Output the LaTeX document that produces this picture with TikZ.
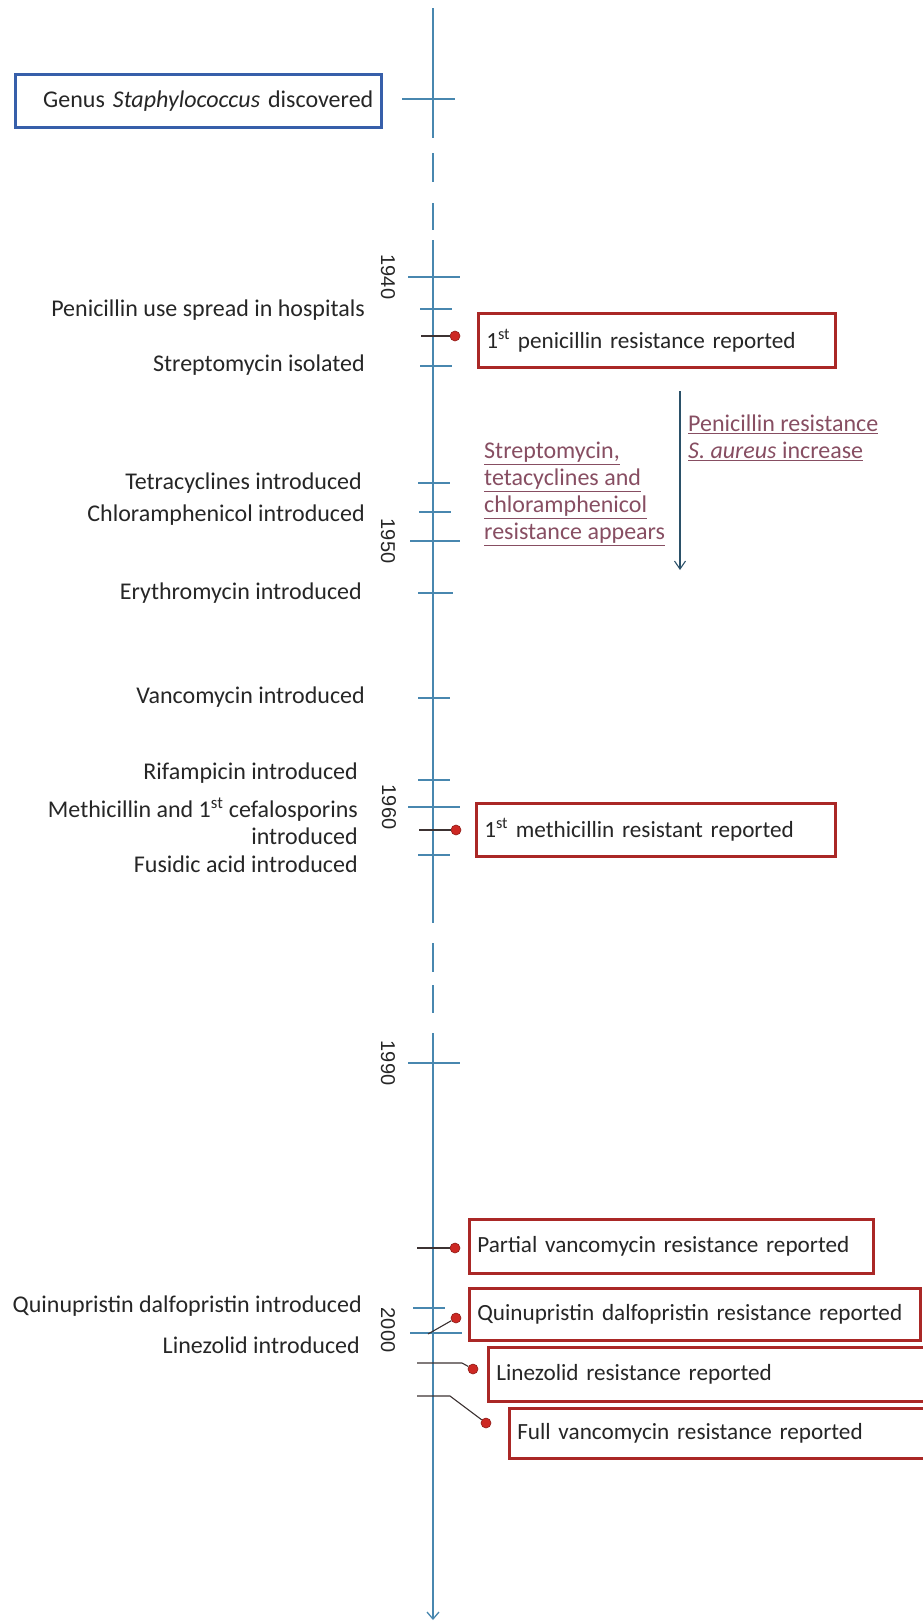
\documentclass[tikz,border=0pt]{standalone}
\usepackage{fontspec}
\setmainfont{Carlito}
\newfontfamily\yearfont{Liberation Sans}
\usetikzlibrary{arrows.meta,shadows}
\definecolor{axisblue}{RGB}{72,135,175}
\definecolor{boxred}{RGB}{170,40,38}
\definecolor{dotred}{RGB}{205,40,35}
\definecolor{genusblue}{RGB}{55,95,170}
\definecolor{annotc}{RGB}{135,78,98}
\definecolor{darkconn}{RGB}{60,50,50}
\begin{document}
\begin{tikzpicture}[x=1pt,y=-1pt,
  lbl/.style={anchor=east, inner sep=0pt, font=\fontsize{24}{27}\selectfont, text=black!85},
  yr/.style={rotate=-90, inner sep=0pt, font=\yearfont\fontsize{20}{22}\selectfont, text=black!85},
  tick/.style={draw=axisblue, line width=1.1pt},
  axisline/.style={draw=axisblue, line width=1.3pt},
  rbox/.style={draw=boxred, line width=2.6pt, fill=white, anchor=north west, inner xsep=8pt, inner ysep=0pt,
     align=left, font=\fontsize{23.2}{26}\selectfont, text=black!85,
     drop shadow={shadow xshift=2pt, shadow yshift=-2pt, opacity=0.25, fill=red!40!black}},
  gbox/.style={draw=genusblue, line width=2.6pt, fill=white, anchor=north west, inner xsep=8pt, inner ysep=0pt,
     align=right, font=\fontsize{24}{27}\selectfont, text=black!85,
     drop shadow={shadow xshift=2pt, shadow yshift=-2pt, opacity=0.25, fill=blue!30!black}},
  rdot/.style={circle, fill=dotred, draw=dotred!70!black, line width=0.6pt, minimum size=10pt, inner sep=0pt},
  conn/.style={draw=darkconn, line width=1.1pt},
  annot/.style={text=annotc, align=left, inner sep=0pt, anchor=north west, font=\fontsize{24}{27}\selectfont}
]
\useasboundingbox (0,0) rectangle (922,1622);

% ---- axis ----
\draw[axisline] (433,8) -- (433,138);
\draw[axisline] (433,153) -- (433,182);
\draw[axisline] (433,203) -- (433,230);
\draw[axisline] (433,240) -- (433,923);
\draw[axisline] (433,943) -- (433,972);
\draw[axisline] (433,985) -- (433,1013);
\draw[axisline,-{Straight Barb[length=7pt,width=12pt]}] (433,1033) -- (433,1620);

% ---- ticks ----
\draw[tick] (402,99) -- (455,99);
\draw[tick] (408,277) -- (460,277);
\draw[tick] (420,309) -- (452,309);
\draw[tick] (420,366) -- (452,366);
\draw[tick] (418,483) -- (450,483);
\draw[tick] (419,512) -- (451,512);
\draw[tick] (410,541) -- (460,541);
\draw[tick] (418,593) -- (453,593);
\draw[tick] (418,698) -- (450,698);
\draw[tick] (418,780) -- (450,780);
\draw[tick] (408,807) -- (460,807);
\draw[tick] (418,855) -- (450,855);
\draw[tick] (408,1063) -- (460,1063);
\draw[tick] (413,1308) -- (445,1308);
\draw[tick] (410,1333) -- (462,1333);

% ---- year labels ----
\node[yr] (y1940) at (388,277) {1940};
\node[yr] (y1950) at (388,541) {1950};
\node[yr] (y1960) at (389,807) {1960};
\node[yr] (y1990) at (388,1063) {1990};
\node[yr] (y2000) at (388,1330) {2000};

% ---- genus box ----
\node[gbox, minimum height=53pt, text width=350pt] (genus) at (14,73) {Genus \textit{Staphylococcus} discovered};

% ---- left labels ----
\node[lbl] (l1) at (365,310) {Penicillin use spread in hospitals};
\node[lbl] (l2) at (365,365) {Streptomycin isolated};
\node[lbl] (l3) at (362,483) {Tetracyclines introduced};
\node[lbl] (l4) at (365,515) {Chloramphenicol introduced};
\node[lbl] (l5) at (362,593) {Erythromycin introduced};
\node[lbl] (l6) at (365,697) {Vancomycin introduced};
\node[lbl] (l7) at (358,773) {Rifampicin introduced};
\node[lbl, align=right] (l8) at (358,821) {Methicillin and 1\textsuperscript{st} cefalosporins\\introduced};
\node[lbl] (l9) at (358,864) {Fusidic acid introduced};
\node[lbl] (l10) at (362,1306) {Quinupristin dalfopristin introduced};
\node[lbl] (l11) at (360,1345) {Linezolid introduced};

% ---- resistance boxes ----
\node[rbox, minimum height=54pt, text width=341pt] (b1) at (477,312) {\mbox{1\textsuperscript{st} penicillin resistance reported}};
\node[rbox, minimum height=53pt, text width=343pt] (b2) at (475,802) {\mbox{1\textsuperscript{st} methicillin resistant reported}};
\node[rbox, minimum height=54pt, text width=388pt] (b3) at (468,1218) {\mbox{Partial vancomycin resistance reported}};
\node[rbox, minimum height=52pt, text width=435pt] (b4) at (468,1287) {\mbox{Quinupristin dalfopristin resistance reported}};
\node[rbox, minimum height=54pt, text width=450pt] (b5) at (487,1346) {\mbox{Linezolid resistance reported}};
\node[rbox, minimum height=50pt, text width=430pt] (b6) at (508,1407) {\mbox{Full vancomycin resistance reported}};

% ---- dots and connectors ----
\node[rdot] (d1) at (455,336) {};
\node[rdot] (d2) at (456,830) {};
\node[rdot] (d3) at (455,1248) {};
\node[rdot] (d4) at (456,1318) {};
\node[rdot] (d5) at (473,1369) {};
\node[rdot] (d6) at (486,1423) {};
\coordinate (c1) at (421,336);
\coordinate (c2) at (419,830);
\coordinate (c3) at (417,1248);
\coordinate (c4) at (428,1334);
\coordinate (c5) at (417,1363);
\coordinate (c5b) at (462,1363);
\coordinate (c6) at (417,1396);
\coordinate (c6b) at (450,1396);
\draw[conn] (c1) -- (d1);
\draw[conn] (c2) -- (d2);
\draw[conn] (c3) -- (d3);
\draw[conn] (c4) -- (d4);
\draw[conn] (c5) -- (c5b) -- (d5);
\draw[conn] (c6) -- (c6b) -- (d6);

% ---- annotations ----
\coordinate (va) at (680,391);
\coordinate (vb) at (680,570);
\draw[draw=axisblue!60!black, line width=1.1pt, -{Straight Barb[length=8pt,width=11pt]}] (va) -- (vb);
\node[annot] (pr) at (688,415) {\underline{Penicillin resistance}\\\underline{\textit{S. aureus} increase}};
\node[annot] (sr) at (484,442) {\underline{Streptomycin,}\\\underline{tetacyclines and}\\\underline{chloramphenicol}\\\underline{resistance appears}};
\end{tikzpicture}
\end{document}
